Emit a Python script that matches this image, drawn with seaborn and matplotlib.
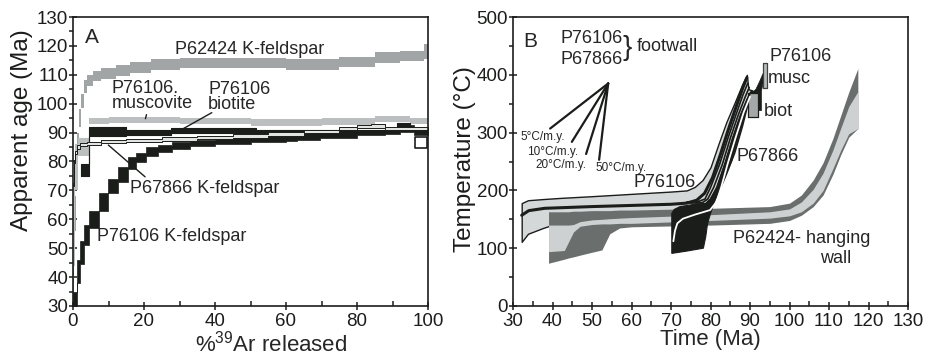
import numpy as np
import matplotlib
matplotlib.use('Agg')
import matplotlib.pyplot as plt
import seaborn as sns

sns.set_style('ticks')
plt.rcParams['font.family'] = ['Liberation Sans', 'DejaVu Sans']
plt.rcParams['mathtext.fontset'] = 'custom'
plt.rcParams['mathtext.rm'] = 'Liberation Sans'

BLACK = '#1b1d1b'
GRAY_KF = '#a2a5a5'
GRAY_MU = '#bcbfbf'
DARK = '#6a6f6e'
LIGHT = '#cdd1d1'
ENV = '#d5d8d8'

# ---------------- panel A: age spectra (step edges in % 39Ar, age, half error)
kf624_x = [0, 0.4, 0.8, 1.2, 1.7, 2.3, 3.0, 4.0, 5.5, 8, 12, 16, 22, 30, 45, 60, 75, 85, 92, 99, 100]
kf624_age = [40, 62, 75, 86, 95, 101, 106, 108, 109.5, 110.5, 111.5, 112.5, 113.5, 114, 114, 113.5, 114.5, 116, 116.5, 118]
kf624_err = [8, 6, 5, 4, 3, 2.5, 2.2, 1.9, 1.8, 1.8, 1.8, 1.8, 1.8, 1.8, 1.8, 1.8, 1.8, 1.8, 1.8, 2.5]

musc_x = [0, 0.5, 1.5, 4.6, 10, 30, 50, 70, 85, 95, 100]
musc_age = [58, 78, 85, 94, 94.3, 94, 93.5, 93.8, 94.8, 94]
musc_err = [14, 8, 3, 1.1, 1.1, 1.1, 1.1, 1.1, 1.1, 1.1]

biot_x = [2.2, 4.6, 15, 27.5, 51.5, 91.2, 95]
biot_age = [77, 90.3, 90.1, 90.7, 90.5, 92.3]
biot_err = [2, 1.5, 0.9, 0.9, 0.5, 0.9]
biot_box_x = [96.3, 99.6]
biot_box_age = [84.6, 88.4]

kf761_x = [0, 1.1, 2.1, 3.2, 4.6, 7.4, 9.9, 12.7, 15.5, 17.8, 20.7, 24, 28, 33, 40, 50, 60, 63, 69.5, 80, 88, 92, 96, 100]
kf761_age = [32, 42, 48.5, 54.5, 60, 66, 71.5, 75.5, 79.5, 81.5, 83.5, 84.5, 85.5, 86.3, 87, 87.7, 88.2, 88.7, 89.2, 90, 90.3, 91.5, 90.3]
kf761_err = [3, 4, 4, 3.5, 3, 3, 2.5, 2.5, 2, 1.5, 1.5, 1.3, 1.2, 1.1, 1, 1, 1, 1.1, 0.9, 0.9, 0.9, 1.2, 1.2]

kf678_x = [0, 0.3, 0.6, 1.2, 2, 4, 8, 15, 25, 35, 45, 55, 65, 75, 80, 84, 88, 100]
kf678_age = [72, 80, 83, 85, 85.8, 86.3, 86.8, 87.3, 87.8, 88.3, 88.8, 89.5, 90.3, 91.3, 92, 92.3, 91.5]

# ---------------- panel B: thermal histories (time Ma, temperature C)
p624_t = [39, 43, 44, 45.3, 47, 50, 52.5, 54.5, 57, 60, 80, 95, 100, 103, 106, 108.5, 111, 113, 115, 117.3]
p624_top = [163, 163, 163, 164, 164, 165, 165, 165, 166, 166, 169, 172, 178, 192, 218, 248, 290, 330, 370, 411]
p624_ltop = [140, 140, 140, 141, 146, 149, 150, 151, 152, 153, 158, 163, 168, 180, 202, 230, 270, 308, 345, 371]
p624_lbot = [94, 96, 110, 128, 138, 141, 142, 142, 143, 143, 148, 152, 156, 163, 178, 200, 238, 270, 298, 307]
p624_bot = [74, 81, 83, 85, 88, 93, 97, 125, 135, 137, 140, 143, 148, 157, 172, 192, 228, 262, 292, 307]

p761_t = [32.2, 33.8, 37.6, 42, 50, 60, 70, 74, 76, 78, 80, 82, 84, 86, 88, 89.2, 89.6, 90.6]
p761_top = [178, 183, 185, 187, 190, 194, 198, 200, 206, 218, 240, 280, 318, 350, 383, 400, 375, 373]
p761_bot = [111, 125, 135, 145, 152, 156, 160, 163, 166, 168, 170, 198, 230, 265, 312, 345, 356, 371]
p761_mid_t = [32.2, 34, 38, 50, 60, 70, 74, 76.5, 78.5, 80.5, 82.5, 84.5, 86.5, 88.2, 89.2]
p761_mid_T = [157, 165, 169, 172, 174, 176, 178, 183, 195, 222, 262, 305, 345, 378, 395]

path1_t = [74, 77, 78.6, 80.0, 82.3, 84.4, 86.4, 88.2, 89.4]
path1_T = [180, 181, 185, 205, 245, 290, 330, 365, 385]
path2_t = [75, 78, 79.3, 80.8, 83.0, 85.0, 87.0, 88.8, 89.8]
path2_T = [178, 179, 185, 205, 245, 290, 330, 362, 378]
path3_t = [76, 78.8, 80.0, 81.6, 83.6, 85.6, 87.6, 89.3, 90.2]
path3_T = [176, 177, 185, 205, 245, 290, 330, 358, 370]

p678_t = [70.2, 70.2, 74, 78.2, 78.8, 79.2, 79.6, 81.1, 83.2, 85.4, 87.9, 89.6, 90.6,
          90.2, 89.3, 87.6, 85.6, 83.6, 81.6, 80.0, 78.8, 76, 72.3, 70.8]
p678_T = [160, 91, 95, 100, 120, 140, 151, 183, 218, 252, 310, 356, 372,
          370, 358, 330, 290, 245, 205, 185, 177, 176, 172, 167]
p678_mid_t = [70.6, 71.0, 71.6, 73, 76, 79.9, 81.5, 82.7, 84.3, 86.3, 88.4, 90.0]
p678_mid_T = [112, 130, 143, 151, 158, 166, 180, 205, 245, 290, 335, 362]

sliver_t = [90.4, 91.5, 92.4, 93.3, 93.3, 92.9, 92.9, 92.1, 92.1, 90.8]
sliver_T = [368, 375, 388, 402, 385, 372, 338, 338, 366, 362]

musc_age_B = [93.4, 94.4]
musc_temp_B = [377, 420]
biot_age_B = [89.6, 92.1]
biot_temp_B = [327, 368]

fan_t0, fan_T0 = 54.1, 385
fan_t = [39.4, 44.9, 48.5, 51.8]
fan_T = [307, 284, 263, 253]
rate_labels = ['5°C/m.y.', '10°C/m.y.', '20°C/m.y.', '50°C/m.y.']
rate_lab_t = [31.8, 33.5, 35.6, 50.8]
rate_lab_T = [293, 267, 244, 238]


def spectrum(ax, edges, age, err, **kw):
    age = np.append(age, age[-1])
    err = np.append(np.broadcast_to(err, len(age) - 1), np.atleast_1d(err)[-1])
    ax.fill_between(edges, age - err, age + err, step='post', **kw)


fig = plt.figure(figsize=(9.31, 3.56), dpi=100)
axA = fig.add_axes([73 / 931, 1 - 306 / 356, 355 / 931, 289 / 356])
axB = fig.add_axes([513 / 931, 1 - 306 / 356, 395 / 931, 289 / 356])

# ---- A
spectrum(axA, kf624_x, kf624_age, kf624_err, color=GRAY_KF, lw=0)
spectrum(axA, musc_x, musc_age, musc_err, color=GRAY_MU, lw=0)
spectrum(axA, biot_x, biot_age, biot_err, facecolor=BLACK, edgecolor=BLACK, lw=0.8)
spectrum(axA, kf761_x, kf761_age, kf761_err, facecolor=BLACK, edgecolor=BLACK, lw=0.5)
axA.fill_between(biot_box_x, biot_box_age[0], biot_box_age[1], facecolor='white',
                 edgecolor=BLACK, lw=1.2)
spectrum(axA, kf678_x, kf678_age, 0.55, facecolor='#e2e4e4', edgecolor=BLACK, lw=0.7)

axA.text(3.4, 123, 'A', fontsize=15, va='center')
axA.text(28.7, 118.6, 'P62424 K-feldspar', fontsize=13, va='center')
axA.text(10.9, 105.1, 'P76106.', fontsize=13, va='center')
axA.text(10.9, 99.9, 'muscovite', fontsize=13, va='center')
axA.text(38.1, 104.9, 'P76106', fontsize=13, va='center')
axA.text(38.1, 99.6, 'biotite', fontsize=13, va='center')
axA.text(16.1, 70.7, 'P67866 K-feldspar', fontsize=13, va='center')
axA.text(6.85, 54, 'P76106 K-feldspar', fontsize=13, va='center')
axA.plot([20.4, 20.7], [94.8, 96.2], color=BLACK, lw=1)
axA.plot([30.1, 39.1], [90.7, 96.9], color=BLACK, lw=1)
axA.plot([9.95, 20.3], [85.7, 74.7], color=BLACK, lw=1)

axA.set_xlim(0, 100)
axA.set_ylim(30, 130)
axA.set_xticks(range(0, 101, 20))
axA.set_xticks(range(10, 100, 20), minor=True)
axA.set_yticks(range(30, 131, 10))
axA.set_yticks(range(35, 130, 10), minor=True)
fig.text(21.7 / 931, 1 - 130 / 356, 'Apparent age (Ma)', fontsize=17.5, rotation=90,
         ha='center', va='center', color=BLACK)
axA.set_xlabel(r'%$^{39}$Ar released', fontsize=16, labelpad=-1)
axA.xaxis.set_label_coords(0.557, -0.085)

# ---- B
axB.fill_between(p761_t, p761_bot, p761_top, facecolor=ENV, edgecolor=BLACK, lw=1)
axB.fill_between(p624_t, p624_bot, p624_top, color=DARK, lw=0)
axB.fill_between(p624_t, p624_lbot, p624_ltop, color=LIGHT, lw=0)
sns.lineplot(x=p761_mid_t, y=p761_mid_T, ax=axB, color=BLACK, lw=2.2, sort=False, estimator=None)
for pt, pT in [(path1_t, path1_T), (path2_t, path2_T), (path3_t, path3_T)]:
    sns.lineplot(x=pt, y=pT, ax=axB, color=BLACK, lw=1.2, sort=False, estimator=None)
axB.fill(p678_t, p678_T, color=BLACK, lw=0.8)
sns.lineplot(x=p678_mid_t, y=p678_mid_T, ax=axB, color='white', lw=1.3, sort=False, estimator=None)
axB.fill(sliver_t, sliver_T, color=BLACK, lw=0.5)
axB.fill_between(biot_age_B, biot_temp_B[0], biot_temp_B[1], facecolor='#a4a8a8',
                 edgecolor=BLACK, lw=0.9)
axB.fill_between(musc_age_B, musc_temp_B[0], musc_temp_B[1], facecolor='#b8bcbc',
                 edgecolor='#404040', lw=0.9)

for t1, T1, lab, lt, lT in zip(fan_t, fan_T, rate_labels, rate_lab_t, rate_lab_T):
    axB.plot([fan_t0, t1], [fan_T0, T1], color=BLACK, lw=1.6)
    axB.text(lt, lT, lab, fontsize=8.5, va='center')

axB.text(32.5, 457, 'B', fontsize=15, va='center')
axB.text(41.9, 463, 'P76106', fontsize=13, va='center')
axB.text(41.9, 427, 'P67866', fontsize=13, va='center')
axB.text(57.6, 446, '}', fontsize=20, va='center')
axB.text(61.3, 449, 'footwall', fontsize=13, va='center')
axB.text(95, 431, 'P76106', fontsize=13, va='center')
axB.text(94.6, 394, 'musc', fontsize=13, va='center')
axB.text(93.5, 336, 'biot', fontsize=13, va='center')
axB.text(86.6, 258, 'P67866', fontsize=13, va='center')
axB.text(60.5, 213, 'P76106', fontsize=13, va='center')
axB.text(85.8, 117, 'P62424- hanging', fontsize=13, va='center')
axB.text(107.7, 82, 'wall', fontsize=13, va='center')

axB.set_xlim(30, 130)
axB.set_ylim(0, 500)
axB.set_xticks(range(30, 131, 10))
axB.set_xticks(range(35, 130, 10), minor=True)
axB.set_yticks(range(0, 501, 100))
axB.set_yticks(range(50, 500, 100), minor=True)
# label sits partly behind the tick labels, as in the original figure
fig.text(465 / 931, 1 - 159 / 356, 'Temperature (°C)', fontsize=17.5, rotation=90,
         ha='center', va='center', color=BLACK, zorder=-1)
axB.set_xlabel('Time (Ma)', fontsize=16, labelpad=-1)

for ax in (axA, axB):
    for s in ax.spines.values():
        s.set_linewidth(1.2)
        s.set_color(BLACK)
    ax.tick_params(which='major', direction='inout', length=6, width=1.1,
                   labelsize=13.5, color=BLACK, labelcolor=BLACK)
    ax.tick_params(axis='y', which='major', pad=0.5)
    ax.tick_params(axis='x', which='major', pad=2)
    ax.tick_params(axis='y', which='minor', direction='out', length=3, width=1.1, color=BLACK)
    ax.tick_params(axis='x', which='minor', direction='in', length=3.5, width=1.1, color=BLACK)

for lab in axB.get_yticklabels():
    lab.set_bbox(dict(facecolor='white', edgecolor='none', pad=0.2))

fig.savefig('out.png', dpi=100)
